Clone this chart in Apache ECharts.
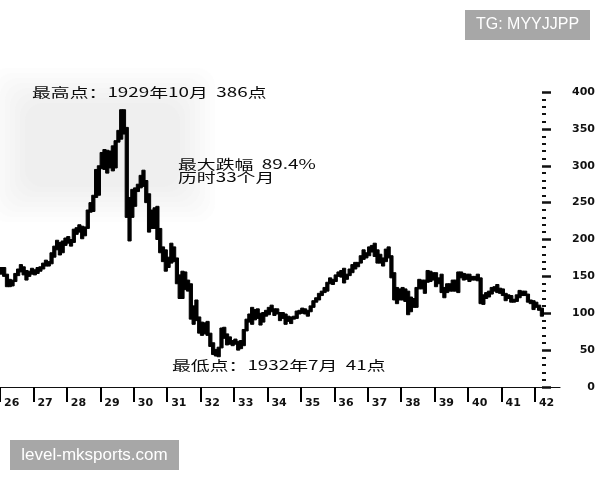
<!DOCTYPE html>
<html><head><meta charset="utf-8">
<script src="https://cdn.jsdelivr.net/npm/echarts@6/dist/echarts.min.js"></script>
<style>html,body{margin:0;padding:0;background:#fff}#c{width:600px;height:480px}</style>
</head><body><div id="c"></div>
<script>
// Monthly ranges, Jan 1926 .. Mar 1942
const startYear = 1926;
const lows = [
  153,150,136,136,137,143,151,156,152,145,150,153, // 1926
  152,154,157,160,164,164,167,176,186,179,182,192, // 1927
  195,191,196,207,210,201,205,215,237,238,257,260, // 1928
  296,295,290,297,293,297,332,336,343,230,198,230, // 1929
  245,265,270,272,250,210,215,215,200,182,170,157, // 1930
  162,168,170,140,120,120,132,130,92,85,90,73,     // 1931
  70,72,70,55,44,42,41,53,66,57,58,56,             // 1932
  58,50,52,56,76,88,85,91,93,84,88,96,             // 1933
  98,102,97,99,90,93,85,89,86,92,93,99,            // 1934
  100,99,96,102,108,115,118,124,128,130,140,139,   // 1935
  143,150,149,141,146,151,155,160,163,168,173,175, // 1936
  178,183,177,168,168,164,170,175,148,118,113,118, // 1937
  118,116,98,102,108,108,133,133,127,142,143,145,  // 1938
  136,140,128,121,128,130,130,130,128,148,145,146, // 1939
  143,145,145,144,113,112,120,122,126,130,128,127, // 1940
  124,117,120,115,115,116,121,124,124,115,113,105, // 1941
  108,104,96                                       // 1942
];
const highs = [
  162,162,153,146,145,154,160,166,163,158,157,161, // 1926
  159,162,163,168,172,170,182,191,199,196,198,202, // 1927
  204,200,214,216,220,218,217,240,250,260,295,300, // 1928
  318,322,321,320,327,334,348,376,376,352,257,268, // 1929
  270,275,287,294,280,262,240,243,245,215,190,186, // 1930
  176,195,190,175,152,157,156,145,140,110,118,95,  // 1931
  88,87,89,73,60,51,54,80,81,72,68,63,             // 1932
  65,62,63,78,92,99,108,105,106,100,101,104,       // 1933
  108,111,106,106,101,101,99,96,95,96,103,104,     // 1934
  107,106,104,110,117,121,127,130,135,142,148,146, // 1935
  152,156,158,161,153,160,166,169,169,178,186,182, // 1936
  190,192,195,186,180,175,187,190,178,155,135,133, // 1937
  135,133,130,122,120,135,146,145,145,158,157,155, // 1938
  155,148,153,135,140,140,145,145,156,156,154,153, // 1939
  153,150,150,153,148,125,128,130,135,136,139,134, // 1940
  133,127,125,124,119,125,131,130,130,126,118,117, // 1941
  115,111,107                                      // 1942
];
const yTicks = [0,50,100,150,200,250,300,350,400];
const notes = {
  high: '最高点：1929年10月  386点',
  drop: '最大跌幅  89.4%',
  months: '历时33个月',
  low: '最低点：1932年7月  41点'
};
const marks = { top: 'TG: MYYJJPP', bottom: 'level-mksports.com' };

const data = lows.map((lo, i) => [startYear + (i + 0.5) / 12, lo, highs[i]]);

const chart = echarts.init(document.getElementById('c'), null, {renderer: 'canvas'});
const cjk = '"Noto Sans CJK SC", sans-serif';
function note(txt, x, y) {
  return { type: 'text', x: x, y: y, scaleX: 1.45, z: 5,
    style: { text: txt, x: 0, y: 0, font: '13px ' + cjk, fill: '#0a0a0a',
      align: 'left', verticalAlign: 'middle', textAlign: 'left', textVerticalAlign: 'middle' } };
}
function wm(txt, x, y, w, h, fs) {
  return { type: 'group', x: x, y: y, z: 10, children: [
    { type: 'rect', shape: {x: 0, y: 0, width: w, height: h}, style: {fill: '#a7a7a7'} },
    { type: 'text', x: w / 2, y: h / 2, style: { text: txt, x: 0, y: 0, font: fs + 'px "Liberation Sans", Arial, sans-serif',
      fill: '#fff', align: 'center', verticalAlign: 'middle', textAlign: 'center', textVerticalAlign: 'middle' } }
  ]};
}
// soft grey haze behind the 1929 peak: nested translucent rects
const fog = [];
for (let k = 0; k < 8; k++) {
  const inset = k * 5;
  fog.push({ type: 'rect', z: -10,
    shape: { x: -10 + inset, y: 68 + inset, width: 225 - 2 * inset, height: 154 - 2 * inset, r: 18 },
    style: { fill: 'rgba(190,190,190,0.032)' } });
}
chart.setOption({
  animation: false,
  backgroundColor: '#fff',
  grid: { left: -4, right: 40, top: 92, bottom: 93 },
  xAxis: {
    type: 'value', min: startYear, max: 1942.75, interval: 1, offset: 7,
    axisLine: { show: true, lineStyle: { color: '#111', width: 1.2 } },
    axisTick: { show: true, length: 15, lineStyle: { color: '#000', width: 2 } },
    splitLine: { show: false },
    axisLabel: {
      margin: 4, align: 'left', padding: [0, 0, 0, 4], showMaxLabel: false,
      fontFamily: '"DejaVu Sans", sans-serif', fontWeight: 'bold', fontSize: 11, color: '#111',
      formatter: v => (Number.isInteger(v) ? String(v % 100) : '')
    }
  },
  yAxis: {
    type: 'value', position: 'right', min: 0, max: 400, interval: 50, offset: -18,
    axisLine: { show: false },
    axisTick: { show: true, inside: false, length: 9, lineStyle: { color: '#111', width: 2.5 } },
    minorTick: { show: true, splitNumber: 5, length: 4, lineStyle: { color: '#111', width: 2 } },
    splitLine: { show: false },
    axisLabel: {
      margin: 53, align: 'right',
      fontFamily: '"DejaVu Sans", sans-serif', fontWeight: 'bold', fontSize: 11, color: '#111',
      formatter: v => (yTicks.includes(v) ? String(v) : '')
    }
  },
  graphic: fog.concat([
    note(notes.high, 32, 92),
    note(notes.drop, 178, 164),
    note(notes.months, 178, 177),
    note(notes.low, 172, 365),
    wm(marks.top, 465, 10, 125, 30, 16),
    wm(marks.bottom, 10, 440, 169, 30, 17)
  ]),
  series: [{
    type: 'custom',
    data: data,
    encode: { x: 0, y: [1, 2] },
    renderItem: function (params, api) {
      const x = api.value(0), lo = api.value(1), hi = api.value(2);
      const p1 = api.coord([x, hi]), p2 = api.coord([x, lo]);
      return { type: 'rect',
        shape: { x: p1[0] - 1.6, y: p1[1], width: 3.2, height: Math.max(1, p2[1] - p1[1]) },
        style: { fill: '#000', stroke: '#000', lineWidth: 1 } };
    }
  }]
});
</script></body></html>
